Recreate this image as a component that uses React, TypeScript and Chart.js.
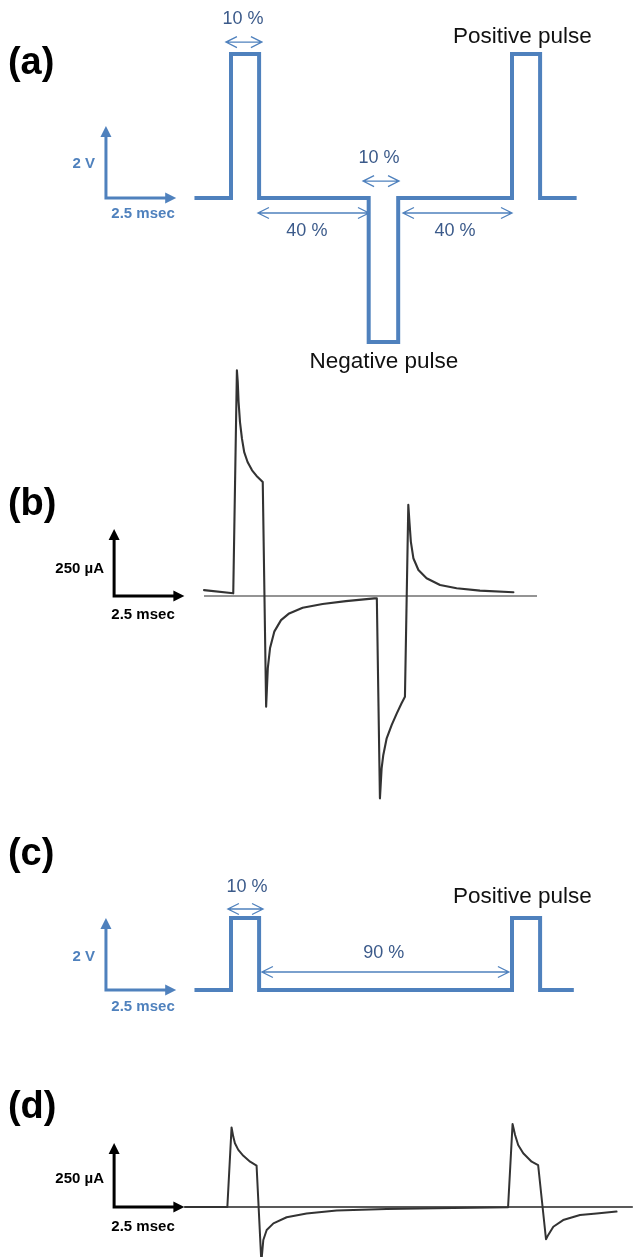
import { useEffect, useRef } from "react";
import { Chart, registerables } from "chart.js";

Chart.register(...registerables);

// ---------- data (time in msec, voltage in V, current in µA) ----------
// (a) biphasic stimulation waveform
const timeA = [-1.3, 0, 0, 1, 1, 4.9, 4.9, 5.95, 5.95, 10, 10, 11, 11, 12.3];
const voltA = [0, 0, 4, 4, 0, 0, -4, -4, 0, 0, 4, 4, 0, 0];

// (b) current response to (a)
const timeB = [-0.96, 0.08, 0.21, 0.24, 0.27, 0.32, 0.39, 0.47, 0.59, 0.75, 0.91, 1.13, 1.25, 1.31, 1.39, 1.54, 1.78, 2.07, 2.55, 3.26, 4.09, 5.1, 5.19, 5.3, 5.36, 5.42, 5.54, 5.72, 5.9, 6.07, 6.19, 6.31, 6.35, 6.4, 6.49, 6.67, 6.96, 7.44, 8.03, 8.86, 10.05];
const currB = [22, 10, 842, 799, 724, 649, 587, 537, 500, 469, 448, 425, -413, -269, -194, -133, -90, -65, -44, -30, -19, -9, -9, -755, -643, -593, -531, -481, -438, -400, -376, 340, 277, 203, 141, 97, 66, 41, 29, 20, 14];
const baseTimeB = [-0.96, 10.89];

// (c) monophasic stimulation waveform
const timeC = [-1.3, 0, 0, 1, 1, 10, 10, 11, 11, 12.2];
const voltC = [0, 0, 2, 2, 0, 0, 2, 2, 0, 0];

// (d) current response to (c)
const timeD = [-1.64, -0.13, 0.02, 0.08, 0.14, 0.26, 0.44, 0.68, 0.91, 1.08, 1.15, 1.27, 1.51, 1.98, 2.69, 3.76, 5.54, 7.91, 9.86, 10.02, 10.11, 10.22, 10.4, 10.7, 10.93, 11.21, 11.29, 11.47, 11.82, 12.42, 13.01, 13.72];
const currD = [0, 0, 311, 275, 249, 223, 200, 177, 162, -215, -129, -90, -64, -40, -25, -14, -8, -4, -1, 324, 281, 242, 210, 177, 164, -126, -109, -77, -51, -31, -25, -18];
const baseTimeD = [-1.64, 14.3];

// scale bars: 2 V / 250 µA by 2.5 msec
const scaleBarVolt = 2;
const scaleBarCurr = 250;
const scaleBarTime = 2.5;

// ---------- layout ----------
const W = 633;
const H = 1257;
const T0_PX = 231;
const PX_PER_MS = 28.1;
const FONT = "'Liberation Sans', Arial, Helvetica, sans-serif";
const BLUE = "#4f81bd";
const TEXT_BLUE = "#3b5a8a";

function yRange(zeroPx: number, pxPerUnit: number) {
  return { min: -(H - zeroPx) / pxPerUnit, max: zeroPx / pxPerUnit };
}

const Y_AXES: Record<string, { min: number; max: number }> = {
  ya: yRange(198, 36),
  yb: yRange(596, 67 / 250),
  yc: yRange(990, 36),
  yd: yRange(1207, 64 / 250),
};

const pts = (xs: number[], ys: number[]) => xs.map((x, i) => ({ x, y: ys[i] }));

type Label = { axis: string; t: number; v: number; text: string; font: string; color: string; align: CanvasTextAlign };

const panelFont = `bold 38px ${FONT}`;
const pctFont = `18px ${FONT}`;
const nameFont = `22.5px ${FONT}`;
const barFont = `bold 15px ${FONT}`;

const LABELS: Label[] = [
  { axis: "ya", t: -7.94, v: 3.74, text: "(a)", font: panelFont, color: "#000", align: "left" },
  { axis: "ya", t: 0.43, v: 4.96, text: "10 %", font: pctFont, color: TEXT_BLUE, align: "center" },
  { axis: "ya", t: 5.27, v: 1.11, text: "10 %", font: pctFont, color: TEXT_BLUE, align: "center" },
  { axis: "ya", t: 2.7, v: -0.93, text: "40 %", font: pctFont, color: TEXT_BLUE, align: "center" },
  { axis: "ya", t: 7.97, v: -0.93, text: "40 %", font: pctFont, color: TEXT_BLUE, align: "center" },
  { axis: "ya", t: 10.37, v: 4.47, text: "Positive pulse", font: nameFont, color: "#111", align: "center" },
  { axis: "ya", t: 5.44, v: -4.56, text: "Negative pulse", font: nameFont, color: "#111", align: "center" },
  { axis: "ya", t: -4.84, v: 0.94, text: "2 V", font: barFont, color: BLUE, align: "right" },
  { axis: "ya", t: -3.13, v: -0.44, text: "2.5 msec", font: barFont, color: BLUE, align: "center" },

  { axis: "yb", t: -7.94, v: 343, text: "(b)", font: panelFont, color: "#000", align: "left" },
  { axis: "yb", t: -4.52, v: 101, text: "250 µA", font: barFont, color: "#000", align: "right" },
  { axis: "yb", t: -3.13, v: -71, text: "2.5 msec", font: barFont, color: "#000", align: "center" },

  { axis: "yc", t: -7.94, v: 3.75, text: "(c)", font: panelFont, color: "#000", align: "left" },
  { axis: "yc", t: 0.57, v: 2.86, text: "10 %", font: pctFont, color: TEXT_BLUE, align: "center" },
  { axis: "yc", t: 5.44, v: 1.03, text: "90 %", font: pctFont, color: TEXT_BLUE, align: "center" },
  { axis: "yc", t: 10.37, v: 2.58, text: "Positive pulse", font: nameFont, color: "#111", align: "center" },
  { axis: "yc", t: -4.84, v: 0.92, text: "2 V", font: barFont, color: BLUE, align: "right" },
  { axis: "yc", t: -3.13, v: -0.47, text: "2.5 msec", font: barFont, color: BLUE, align: "center" },

  { axis: "yd", t: -7.94, v: 387, text: "(d)", font: panelFont, color: "#000", align: "left" },
  { axis: "yd", t: -4.52, v: 109, text: "250 µA", font: barFont, color: "#000", align: "right" },
  { axis: "yd", t: -3.13, v: -78, text: "2.5 msec", font: barFont, color: "#000", align: "center" },
];

const SCALE_BARS = [
  { axis: "ya", t: -4.45, dv: scaleBarVolt, color: BLUE },
  { axis: "yb", t: -4.16, dv: scaleBarCurr, color: "#000" },
  { axis: "yc", t: -4.45, dv: scaleBarVolt, color: BLUE },
  { axis: "yd", t: -4.16, dv: scaleBarCurr, color: "#000" },
];

const SPANS = [
  { axis: "ya", t1: -0.18, t2: 1.1, v: 4.33 },
  { axis: "ya", t1: 4.7, t2: 5.98, v: 0.47 },
  { axis: "ya", t1: 0.96, t2: 4.91, v: -0.417 },
  { axis: "ya", t1: 6.12, t2: 10.0, v: -0.417 },
  { axis: "yc", t1: -0.11, t2: 1.14, v: 2.25 },
  { axis: "yc", t1: 1.1, t2: 9.89, v: 0.5 },
];

const overlayPlugin = {
  id: "overlay",
  afterDatasetsDraw(chart: any) {
    const ctx: CanvasRenderingContext2D = chart.ctx;
    const xs = chart.scales.x;
    ctx.save();

    // scale bars
    for (const b of SCALE_BARS) {
      const ys = chart.scales[b.axis];
      const px0 = xs.getPixelForValue(b.t);
      const pxT = xs.getPixelForValue(b.t + scaleBarTime);
      const py0 = ys.getPixelForValue(0);
      const pyT = ys.getPixelForValue(b.dv);
      const head = 11;
      const half = 5.5;
      ctx.strokeStyle = b.color;
      ctx.fillStyle = b.color;
      ctx.lineWidth = 3;
      ctx.lineJoin = "miter";
      ctx.lineCap = "butt";
      ctx.beginPath();
      ctx.moveTo(px0, pyT + head - 1);
      ctx.lineTo(px0, py0);
      ctx.lineTo(pxT - head + 1, py0);
      ctx.stroke();
      ctx.beginPath();
      ctx.moveTo(px0, pyT);
      ctx.lineTo(px0 - half, pyT + head);
      ctx.lineTo(px0 + half, pyT + head);
      ctx.closePath();
      ctx.fill();
      ctx.beginPath();
      ctx.moveTo(pxT, py0);
      ctx.lineTo(pxT - head, py0 - half);
      ctx.lineTo(pxT - head, py0 + half);
      ctx.closePath();
      ctx.fill();
    }

    // dimension arrows
    ctx.strokeStyle = BLUE;
    ctx.lineWidth = 1.3;
    ctx.lineJoin = "miter";
    for (const s of SPANS) {
      const ys = chart.scales[s.axis];
      const p1 = xs.getPixelForValue(s.t1);
      const p2 = xs.getPixelForValue(s.t2);
      const py = ys.getPixelForValue(s.v);
      const L = 11;
      const h = 5.5;
      ctx.beginPath();
      ctx.moveTo(p1, py);
      ctx.lineTo(p2, py);
      ctx.moveTo(p1 + L, py - h);
      ctx.lineTo(p1, py);
      ctx.lineTo(p1 + L, py + h);
      ctx.moveTo(p2 - L, py - h);
      ctx.lineTo(p2, py);
      ctx.lineTo(p2 - L, py + h);
      ctx.stroke();
    }

    // text
    ctx.textBaseline = "middle";
    for (const l of LABELS) {
      const ys = chart.scales[l.axis];
      ctx.font = l.font;
      ctx.fillStyle = l.color;
      ctx.textAlign = l.align;
      ctx.fillText(l.text, xs.getPixelForValue(l.t), ys.getPixelForValue(l.v));
    }
    ctx.restore();
  },
};

export default function App() {
  const ref = useRef<HTMLCanvasElement | null>(null);

  useEffect(() => {
    if (!ref.current) return;
    const common = { pointRadius: 0, fill: false, parsing: false as const, tension: 0 };
    const chart = new Chart(ref.current, {
      type: "line",
      data: {
        datasets: [
          { ...common, label: "(a) pulse", data: pts(timeA, voltA), yAxisID: "ya", borderColor: BLUE, borderWidth: 4, borderJoinStyle: "miter", order: 1 },
          { ...common, label: "(b) baseline", data: pts(baseTimeB, [0, 0]), yAxisID: "yb", borderColor: "#707070", borderWidth: 1.5, order: 2 },
          { ...common, label: "(b) current", data: pts(timeB, currB), yAxisID: "yb", borderColor: "#333", borderWidth: 2.1, borderJoinStyle: "round", borderCapStyle: "round", order: 1 },
          { ...common, label: "(c) pulse", data: pts(timeC, voltC), yAxisID: "yc", borderColor: BLUE, borderWidth: 4, borderJoinStyle: "miter", order: 1 },
          { ...common, label: "(d) baseline", data: pts(baseTimeD, [0, 0]), yAxisID: "yd", borderColor: "#222", borderWidth: 1.4, order: 2 },
          { ...common, label: "(d) current", data: pts(timeD, currD), yAxisID: "yd", borderColor: "#333", borderWidth: 2, borderJoinStyle: "round", borderCapStyle: "round", order: 1 },
        ] as any,
      },
      options: {
        animation: false,
        responsive: false,
        events: [],
        layout: { padding: 0 },
        plugins: { legend: { display: false }, tooltip: { enabled: false }, title: { display: false } },
        scales: {
          x: { type: "linear", display: false, min: -T0_PX / PX_PER_MS, max: (W - T0_PX) / PX_PER_MS },
          ya: { type: "linear", display: false, ...Y_AXES.ya },
          yb: { type: "linear", display: false, ...Y_AXES.yb },
          yc: { type: "linear", display: false, ...Y_AXES.yc },
          yd: { type: "linear", display: false, ...Y_AXES.yd },
        },
      },
      plugins: [overlayPlugin],
    });
    return () => chart.destroy();
  }, []);

  return (
    <div style={{ position: "absolute", left: 0, top: 0, width: W, height: H, background: "#fff", overflow: "hidden" }}>
      <canvas ref={ref} width={W} height={H} style={{ display: "block", width: W, height: H }} />
    </div>
  );
}
